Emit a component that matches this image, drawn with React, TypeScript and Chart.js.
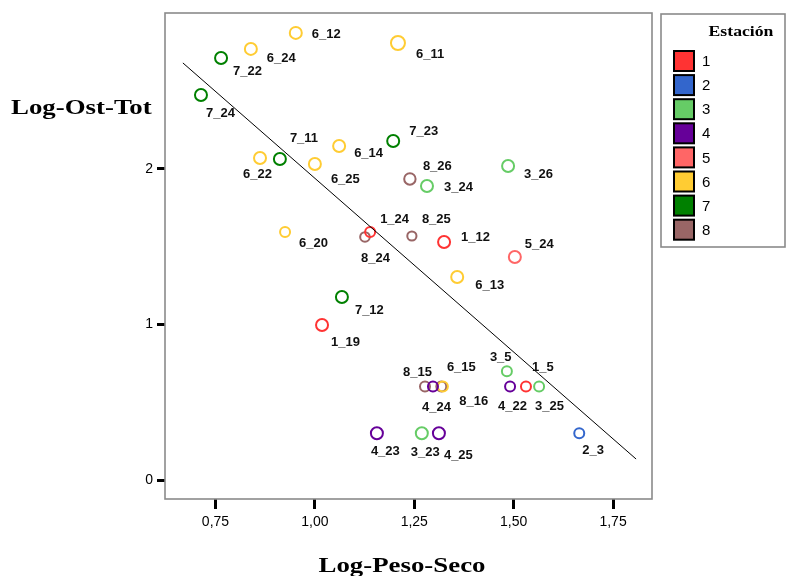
import React, { useEffect, useRef } from 'react';
import { Chart, registerables } from 'chart.js';

Chart.register(...registerables);

// ---- data ----
const stationNames = ['1', '2', '3', '4', '5', '6', '7', '8'];
const stationColors = ['#ff3333', '#3366cc', '#66cc66', '#660099', '#ff6666', '#ffcc33', '#008000', '#996666'];

const station1 = [
  { id: '1_24', x: 1.139, y: 1.595 },
  { id: '1_19', x: 1.018, y: 0.997 },
  { id: '1_12', x: 1.325, y: 1.531 },
  { id: '1_5', x: 1.531, y: 0.602 },
];
const station2 = [{ id: '2_3', x: 1.665, y: 0.301 }];
const station3 = [
  { id: '3_24', x: 1.282, y: 1.891 },
  { id: '3_26', x: 1.486, y: 2.019 },
  { id: '3_5', x: 1.483, y: 0.699 },
  { id: '3_25', x: 1.564, y: 0.602 },
  { id: '3_23', x: 1.269, y: 0.301 },
];
const station4 = [
  { id: '4_24', x: 1.297, y: 0.602 },
  { id: '4_22', x: 1.491, y: 0.602 },
  { id: '4_23', x: 1.156, y: 0.301 },
  { id: '4_25', x: 1.312, y: 0.301 },
];
const station5 = [{ id: '5_24', x: 1.503, y: 1.434 }];
const station6 = [
  { id: '6_12', x: 0.952, y: 2.875 },
  { id: '6_24', x: 0.839, y: 2.772 },
  { id: '6_11', x: 1.209, y: 2.81 },
  { id: '6_22', x: 0.862, y: 2.071 },
  { id: '6_25', x: 1.0, y: 2.032 },
  { id: '6_14', x: 1.061, y: 2.148 },
  { id: '6_20', x: 0.925, y: 1.595 },
  { id: '6_13', x: 1.358, y: 1.305 },
  { id: '6_15', x: 1.322, y: 0.602 },
];
const station7 = [
  { id: '7_22', x: 0.764, y: 2.714 },
  { id: '7_24', x: 0.7135, y: 2.476 },
  { id: '7_11', x: 0.912, y: 2.064 },
  { id: '7_23', x: 1.197, y: 2.18 },
  { id: '7_12', x: 1.068, y: 1.177 },
];
const station8 = [
  { id: '8_26', x: 1.239, y: 1.936 },
  { id: '8_24', x: 1.126, y: 1.563 },
  { id: '8_25', x: 1.244, y: 1.569 },
  { id: '8_15', x: 1.277, y: 0.602 },
  { id: '8_16', x: 1.318, y: 0.602 },
];
const stations = [station1, station2, station3, station4, station5, station6, station7, station8];

const fitX = [0.668, 1.808];
const fitY = [2.682, 0.135];

const xTicks = [0.75, 1.0, 1.25, 1.5, 1.75];
const yTicks = [0, 1, 2];

const xTitle = 'Log-Peso-Seco';
const yTitle = 'Log-Ost-Tot';
const legendTitle = 'Estación';

// ---- styling (not data) ----
const markerRadius: Record<string, number> = {
  '6_11': 7, '8_25': 4.6, '6_20': 5, '8_24': 4.8, '1_24': 5, '2_3': 5, '3_5': 5,
  '8_15': 5, '4_24': 5, '6_15': 5, '8_16': 5, '4_22': 5, '1_5': 5, '3_25': 5, '8_26': 5.7,
};
const labelOffsets: Record<string, [number, number]> = {
  '6_12': [16, 2], '6_24': [16, 9], '7_22': [12, 13], '7_24': [5, 18], '6_11': [18, 11],
  '6_22': [-17, 16], '7_11': [10, -21], '6_25': [16, 15], '6_14': [15, 7], '7_23': [16, -10],
  '8_26': [13, -13], '3_24': [17, 1], '3_26': [16, 8], '6_20': [14, 11], '1_24': [10, -13],
  '8_24': [-4, 21], '8_25': [10, -17], '7_12': [13, 13], '1_19': [9, 17], '1_12': [17, -5],
  '5_24': [10, -13], '6_13': [18, 8], '3_5': [-17, -14], '1_5': [6, -19], '8_15': [-22, -14],
  '6_15': [4, -19], '4_24': [-11, 21], '8_16': [18, 15], '4_22': [-12, 20], '3_25': [-4, 20],
  '2_3': [3, 17], '4_23': [-6, 18], '3_23': [-11, 19], '4_25': [5, 22],
};

const SANS = '"Liberation Sans", Arial, sans-serif';
const SERIF = '"Liberation Serif", "Times New Roman", serif';

function stretchedText(ctx: CanvasRenderingContext2D, text: string, x: number, y: number, sx: number, align: 'left' | 'center') {
  ctx.save();
  ctx.translate(x, y);
  ctx.scale(sx, 1);
  ctx.textAlign = align;
  ctx.fillText(text, 0, 0);
  ctx.restore();
}

const decorPlugin = {
  id: 'decor',
  beforeDraw(chart: any) {
    const ctx = chart.ctx;
    ctx.save();
    ctx.fillStyle = '#ffffff';
    ctx.fillRect(0, 0, chart.width, chart.height);
    ctx.restore();
  },
  afterDatasetsDraw(chart: any) {
    const ctx = chart.ctx as CanvasRenderingContext2D;
    ctx.save();
    ctx.font = `bold 13px ${SANS}`;
    ctx.fillStyle = '#111';
    ctx.textAlign = 'left';
    ctx.textBaseline = 'middle';
    chart.data.datasets.forEach((ds: any, i: number) => {
      if (!ds.isStation) return;
      const meta = chart.getDatasetMeta(i);
      meta.data.forEach((el: any, j: number) => {
        const id = ds.data[j].id;
        const off = labelOffsets[id] || [12, 14];
        ctx.fillText(id, el.x + off[0], el.y + off[1]);
      });
    });
    ctx.restore();
  },
  afterDraw(chart: any) {
    const ctx = chart.ctx as CanvasRenderingContext2D;
    const a = chart.chartArea;
    ctx.save();
    // plot frame
    ctx.strokeStyle = '#8a8a8a';
    ctx.lineWidth = 1.6;
    ctx.strokeRect(a.left, a.top, a.right - a.left, a.bottom - a.top);

    // axis titles
    ctx.fillStyle = '#000';
    ctx.textBaseline = 'alphabetic';
    ctx.font = `bold 22px ${SERIF}`;
    stretchedText(ctx, yTitle, 11, 114, 1.22, 'left');
    stretchedText(ctx, xTitle, 402, 572, 1.22, 'center');

    // legend
    const lx = 661, ly = 14, lw = 124, lh = 233;
    ctx.strokeStyle = '#8a8a8a';
    ctx.lineWidth = 1.6;
    ctx.strokeRect(lx, ly, lw, lh);
    ctx.font = `bold 15px ${SERIF}`;
    ctx.fillStyle = '#000';
    ctx.textBaseline = 'middle';
    stretchedText(ctx, legendTitle, 741, 32, 1.18, 'center');
    ctx.font = `15px ${SANS}`;
    stationNames.forEach((name, i) => {
      const cy = 61 + i * 24.1;
      ctx.fillStyle = stationColors[i];
      ctx.fillRect(674, cy - 10, 20, 20);
      ctx.strokeStyle = '#000';
      ctx.lineWidth = 2;
      ctx.strokeRect(674, cy - 10, 20, 20);
      ctx.fillStyle = '#000';
      ctx.textAlign = 'left';
      ctx.fillText(name, 702, cy + 1);
    });
    ctx.restore();
  },
};

export default function App() {
  const canvasRef = useRef<HTMLCanvasElement | null>(null);

  useEffect(() => {
    const canvas = canvasRef.current;
    if (!canvas) return;

    const stationDatasets = stations.map((pts, i) => ({
      type: 'scatter' as const,
      label: stationNames[i],
      isStation: true,
      data: pts.map((p) => ({ x: p.x, y: p.y, id: p.id })),
      borderColor: stationColors[i],
      backgroundColor: 'rgba(0,0,0,0)',
      borderWidth: 2,
      pointStyle: 'circle',
      pointRadius: pts.map((p) => markerRadius[p.id] ?? 6),
      pointHoverRadius: pts.map((p) => markerRadius[p.id] ?? 6),
      showLine: false,
    }));

    const fitDataset = {
      type: 'line' as const,
      label: 'fit',
      data: fitX.map((x, i) => ({ x, y: fitY[i] })),
      borderColor: '#000',
      borderWidth: 1,
      pointRadius: 0,
      fill: false,
      tension: 0,
    };

    const chart = new Chart(canvas, {
      type: 'scatter',
      data: { datasets: [fitDataset as any, ...stationDatasets] },
      plugins: [decorPlugin],
      options: {
        responsive: false,
        animation: false,
        devicePixelRatio: 1,
        layout: { padding: { top: 13, right: 135, bottom: 0, left: 0 } },
        plugins: { legend: { display: false }, tooltip: { enabled: false } },
        scales: {
          x: {
            type: 'linear',
            min: 0.623,
            max: 1.848,
            afterBuildTicks: (s: any) => { s.ticks = xTicks.map((v) => ({ value: v })); },
            afterFit: (s: any) => { s.height = 77; },
            grid: { drawOnChartArea: false, drawTicks: true, tickLength: 10, tickWidth: 3, tickColor: '#000' },
            border: { display: false },
            ticks: {
              padding: 5,
              color: '#000',
              font: { family: SANS, size: 14 },
              callback: (v: any) => Number(v).toFixed(2).replace('.', ','),
            },
          },
          y: {
            type: 'linear',
            min: -0.122,
            max: 3.003,
            afterBuildTicks: (s: any) => { s.ticks = yTicks.map((v) => ({ value: v })); },
            afterFit: (s: any) => { s.width = 165; },
            grid: { drawOnChartArea: false, drawTicks: true, tickLength: 8, tickWidth: 3, tickColor: '#000' },
            border: { display: false },
            ticks: {
              padding: 4,
              color: '#000',
              font: { family: SANS, size: 14 },
              callback: (v: any) => String(v),
            },
          },
        },
      } as any,
    });

    return () => chart.destroy();
  }, []);

  return (
    <div style={{ position: 'absolute', left: 0, top: 0, width: 787, height: 576 }}>
      <canvas ref={canvasRef} width={787} height={576} style={{ display: 'block' }} />
    </div>
  );
}
